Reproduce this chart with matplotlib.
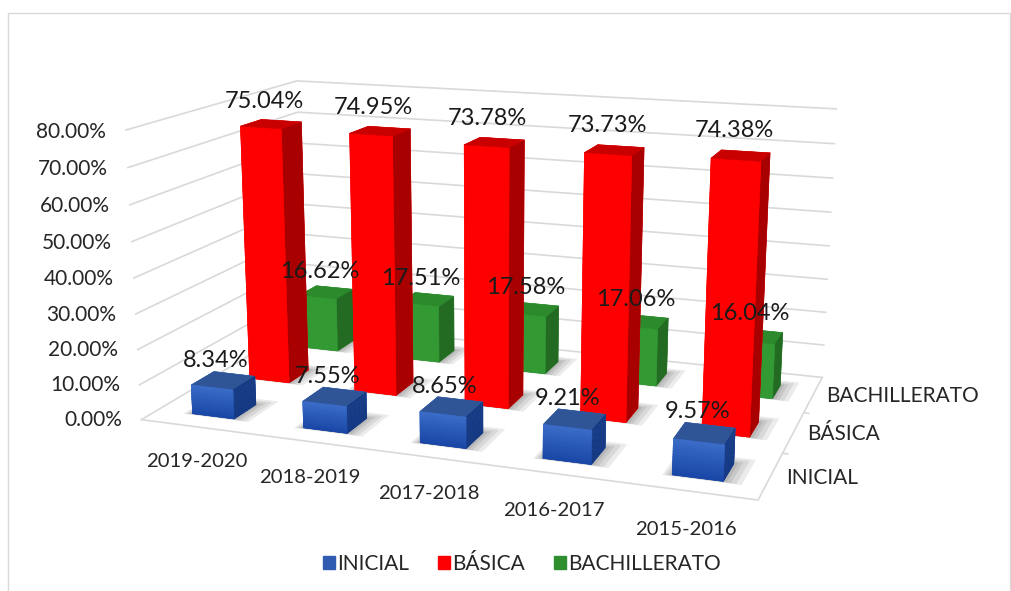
import numpy as np
import matplotlib
matplotlib.use('Agg')
import matplotlib.pyplot as plt
from matplotlib.colors import to_rgb
from matplotlib.patches import Patch, Rectangle
from mpl_toolkits.mplot3d.art3d import Poly3DCollection

# Data
years = ['2019-2020', '2018-2019', '2017-2018', '2016-2017', '2015-2016']
inicial = [8.34, 7.55, 8.65, 9.21, 9.57]
basica = [75.04, 74.95, 73.78, 73.73, 74.38]
bachillerato = [16.62, 17.51, 17.58, 17.06, 16.04]
levels = ['INICIAL', 'BÁSICA', 'BACHILLERATO']
ticks = [0, 10, 20, 30, 40, 50, 60, 70, 80]

plt.rcParams['font.family'] = ['Lato', 'DejaVu Sans']
TXT = '#262626'
GRID = '#D9D9D9'
W, H = 1011, 591

fig = plt.figure(figsize=(W / 100, H / 100), dpi=100)
ax = fig.add_axes([0, 0, 1, 1], projection='3d', computed_zorder=False)
ax.set_proj_type('persp', focal_length=0.4102)
ax.view_init(elev=14.04, azim=-70.46, roll=-0.08)
ax.set_box_aspect((1, 0.5925, 0.4719))
ax.set_xlim(0, 5, view_margin=0)
ax.set_ylim(0, 3, view_margin=0)
ax.set_zlim(0, 80, view_margin=0)
ax.set_axis_off()
ax.patch.set_alpha(0)

# put the 3d box where the picture has it
s, dx, dy = 4005.7, 495.4, 329.7
x0, x1 = ax.viewLim.intervalx
y0, y1 = ax.viewLim.intervaly
ax.set_position([(dx + s * x0) / W, (dy + s * y0) / H, s * (x1 - x0) / W, s * (y1 - y0) / H])

# walls, floor
for t in ticks:
    ax.plot([0, 0, 5], [0, 3, 3], [t, t, t], color=GRID, lw=1.2, zorder=1, clip_on=False)
ax.plot([0, 5, 5], [0, 0, 3], [0, 0, 0], color=GRID, lw=1.2, zorder=1, clip_on=False)
for r in [1, 2]:
    ax.plot([5, 5.04], [r, r], [0, 0], color=GRID, lw=1.2, zorder=1, clip_on=False)

BW, BD = 0.38, 0.38
X_OFF, Y_OFF = 0.315, 0.27


def draw_bar(x, y, h, front_top, front_bot, top, side_top, side_bot, z):
    # shadow on the floor
    for e in [0.14, 0.10, 0.06, 0.03]:
        xa, xb, ya, yb = x - e * 0.5, x + BW + e, y - e * 0.2, y + BD + e
        shadow = Poly3DCollection([[(xa, ya, 0), (xb, ya, 0), (xb, yb, 0), (xa, yb, 0)]],
                                  facecolor=(0, 0, 0, 0.08), edgecolor='none', zorder=2)
        ax.add_collection3d(shadow, autolim=False)
    n = 1 if front_top == front_bot else 14
    for k in range(n):
        f = (k + 0.5) / n
        fc = np.array(to_rgb(front_bot)) * (1 - f) + np.array(to_rgb(front_top)) * f
        sc = np.array(to_rgb(side_bot)) * (1 - f) + np.array(to_rgb(side_top)) * f
        cols = [fc, top, fc, fc, fc, sc]
        ax.bar3d(x, y, h * k / n, BW, BD, h / n, color=cols, edgecolor=cols, linewidth=0.4, shade=False,
                 zorder=z + k * 0.01)


for i in range(5):
    draw_bar(i + X_OFF, 2 + Y_OFF, bachillerato[i], '#339933', '#339933', '#2C8A2C', '#236B23', '#236B23', 3)
for i in range(5):
    draw_bar(i + X_OFF, 1 + Y_OFF, basica[i], '#FF0000', '#FF0000', '#C80000', '#A80000', '#A80000', 4)
for i in range(5):
    draw_bar(i + X_OFF, 0 + Y_OFF, inicial[i], '#3A6CC8', '#1846A6', '#2F5597', '#15387F', '#15387F', 5)

# data labels
for r, (vals, pad) in enumerate(zip([inicial, basica, bachillerato], [5.5, 6.5, 6.5])):
    for i, v in enumerate(vals):
        ax.text(i + X_OFF + BW / 2 - 0.06, r + Y_OFF + BD / 2, v + pad, f'{v:.2f}%', ha='center', va='center',
                fontsize=17, color='#1A1A1A', zorder=6)

# axis labels
for t in ticks:
    ax.text(-0.18, 0, t - 0.8, f'{t:.2f}%', ha='right', va='center', fontsize=15, color=TXT, zorder=6)
for i, y in enumerate(years):
    ax.text(i + 0.49, 0, -10, y, ha='center', va='center', fontsize=14.6, color=TXT, zorder=6)
for r, name in enumerate(levels):
    ax.text(5.11, r + 0.5, 0, name, ha='left', va='center', fontsize=15, color=TXT, zorder=6)

handles = [Patch(color='#2F5CB0'), Patch(color='#FF0000'), Patch(color='#2F8F2F')]
fig.legend(handles, levels, loc='center', bbox_to_anchor=(522 / W, 1 - 564 / H), ncol=3, frameon=False,
           fontsize=15, labelcolor=TXT, handlelength=0.58, handleheight=0.58, handletextpad=0.1,
           columnspacing=1.4)

# chart frame
fig.add_artist(Rectangle((8 / W, -0.01), (W - 9) / W, 1.01 - 13 / H, transform=fig.transFigure, fill=False,
                         edgecolor=GRID, lw=1))

fig.savefig('out.png', dpi=100)
